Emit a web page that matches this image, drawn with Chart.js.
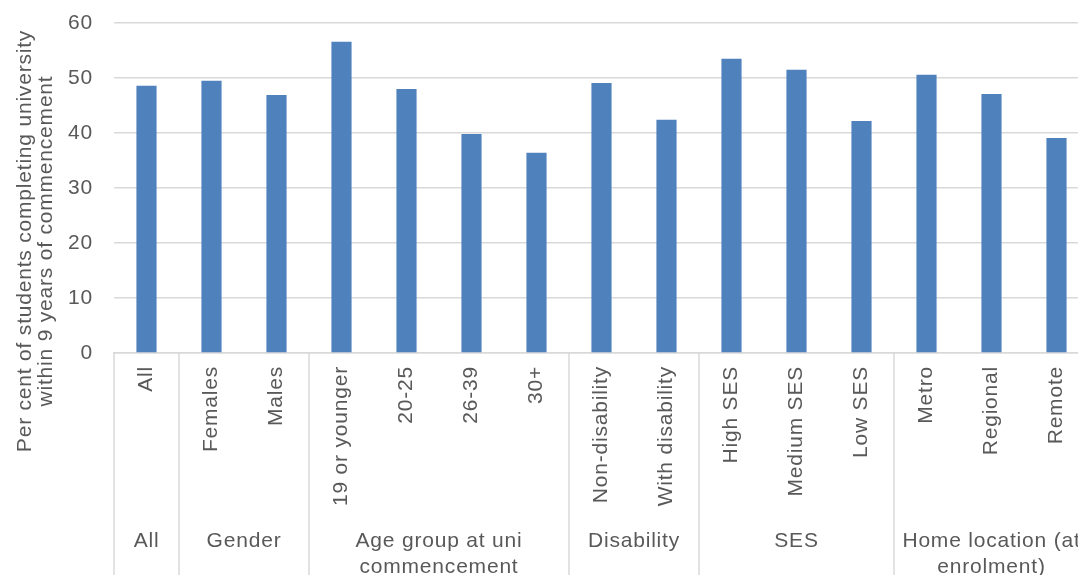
<!DOCTYPE html>
<html>
<head>
<meta charset="utf-8">
<script src="https://cdn.jsdelivr.net/npm/chart.js@4/dist/chart.umd.min.js"></script>
<style>
  html, body { margin: 0; padding: 0; background: #fff; overflow: hidden; }
  #wrap { width: 1095px; height: 575px; }
</style>
</head>
<body>
<div id="wrap"><canvas id="c" width="1095" height="575"></canvas></div>
<script>
const categories = ['All', 'Females', 'Males', '19 or younger', '20-25', '26-39', '30+',
  'Non-disability', 'With disability', 'High SES', 'Medium SES', 'Low SES',
  'Metro', 'Regional', 'Remote'];
const values = [48.6, 49.5, 46.9, 56.6, 48.0, 39.8, 36.4, 49.1, 42.4, 53.5, 51.5, 42.2, 50.6, 47.1, 39.1];
const groupLabels = [['All'], ['Gender'], ['Age group at uni', 'commencement'], ['Disability'], ['SES'], ['Home location (at', 'enrolment)']];
const groupSizes = [1, 2, 4, 2, 3, 3];
const yTitle = ['Per cent of students completing university', 'within 9 years of commencement'];

const FONT = '"Liberation Sans", Arial, sans-serif';
const TXT = '#595959';
const GRID = '#d9d9d9';
const SPACING = '0.8px';

const groupPlugin = {
  id: 'groupPlugin',
  beforeLayout(chart) { chart.ctx.letterSpacing = SPACING; },
  beforeDraw(chart) { chart.ctx.letterSpacing = SPACING; },
  afterDraw(chart) {
    const ctx = chart.ctx;
    const xs = chart.scales.x;
    const half = (xs.getPixelForValue(1) - xs.getPixelForValue(0)) / 2;
    const top = xs.top;
    const bottom = chart.height;
    ctx.save();
    ctx.letterSpacing = SPACING;
    ctx.strokeStyle = GRID;
    ctx.lineWidth = 1.5;
    ctx.fillStyle = TXT;
    ctx.font = '21px ' + FONT;
    ctx.textAlign = 'center';
    ctx.textBaseline = 'middle';
    let idx = 0;
    groupSizes.forEach((size, g) => {
      const x0 = xs.getPixelForValue(idx) - half;
      const x1 = xs.getPixelForValue(idx + size - 1) + half;
      ctx.beginPath();
      ctx.moveTo(x0, top);
      ctx.lineTo(x0, bottom);
      ctx.stroke();
      groupLabels[g].forEach((line, li) => {
        ctx.fillText(line, (x0 + x1) / 2, 541 + li * 26);
      });
      idx += size;
    });
    // y axis title (two lines, rotated)
    ctx.save();
    ctx.translate(25, 241);
    ctx.rotate(-Math.PI / 2);
    yTitle.forEach((line, li) => {
      ctx.fillText(line, 0, li * 21);
    });
    ctx.restore();
    ctx.restore();
  }
};

new Chart(document.getElementById('c'), {
  type: 'bar',
  data: {
    labels: categories,
    datasets: [{
      data: values,
      backgroundColor: '#4F81BD',
      borderWidth: 0,
      barPercentage: 0.31,
      categoryPercentage: 1.0
    }]
  },
  options: {
    responsive: false,
    animation: false,
    devicePixelRatio: 1,
    layout: { padding: { top: 23, right: 6, left: 0, bottom: 0 } },
    plugins: { legend: { display: false }, tooltip: { enabled: false } },
    scales: {
      x: {
        grid: { display: false, drawTicks: false },
        border: { display: true, color: GRID, width: 1.5 },
        ticks: {
          autoSkip: false, minRotation: 90, maxRotation: 90,
          padding: 13, color: TXT, font: { family: FONT, size: 21 }
        },
        afterFit(scale) { scale.height = 222; scale.paddingLeft = 0; scale.paddingRight = 0; }
      },
      y: {
        min: 0, max: 60,
        ticks: { stepSize: 10, padding: 21, color: TXT, font: { family: FONT, size: 21 } },
        grid: { color: GRID, lineWidth: 1.5, drawTicks: false },
        border: { display: false },
        title: { display: false },
        afterFit(scale) { scale.width = 114; scale.paddingTop = 0; scale.paddingBottom = 0; }
      }
    }
  },
  plugins: [groupPlugin]
});
</script>
</body>
</html>
